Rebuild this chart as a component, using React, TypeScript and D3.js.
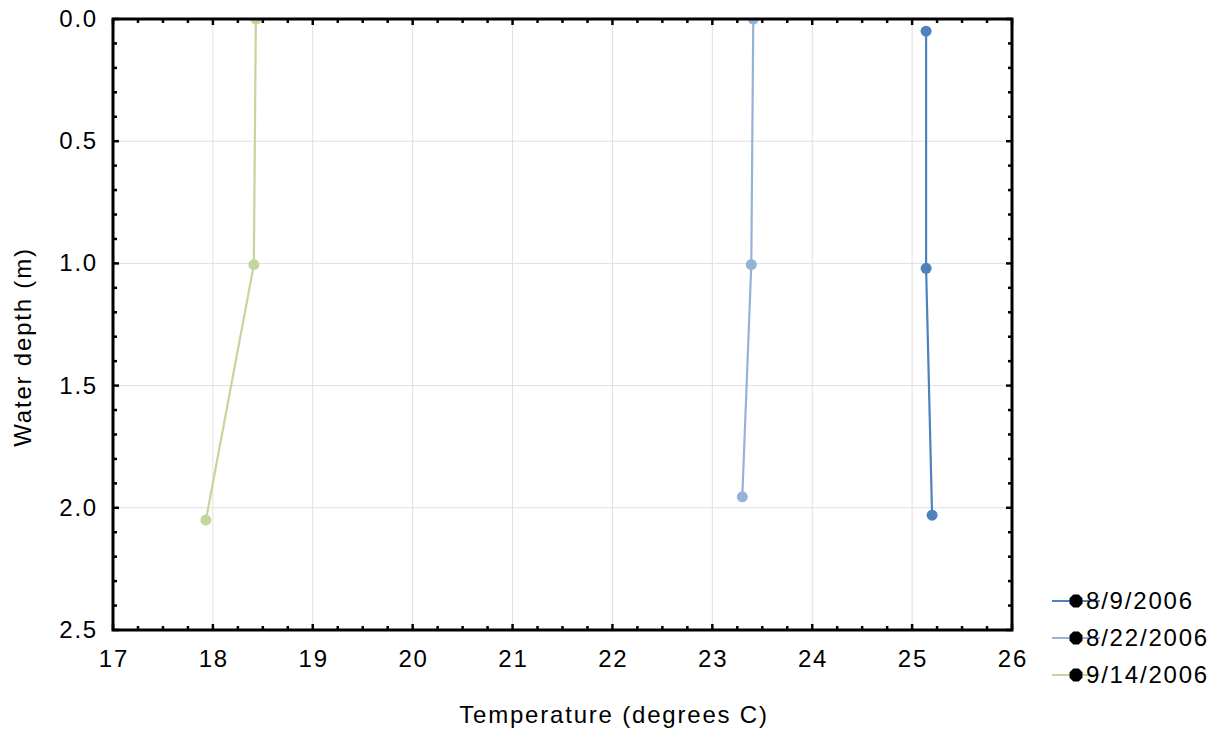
import React from "react";
import * as d3 from "d3";

const seriesNames = ["8/9/2006", "8/22/2006", "9/14/2006"];
const seriesColors = ["#4f81bd", "#95b3d7", "#c3d69b"];
const temp0809 = [25.14, 25.14, 25.2];
const depth0809 = [0.05, 1.02, 2.03];
const temp0822 = [23.41, 23.39, 23.3];
const depth0822 = [0.0, 1.005, 1.955];
const temp0914 = [18.43, 18.41, 17.93];
const depth0914 = [0.0, 1.005, 2.05];
const xTicks = [17, 18, 19, 20, 21, 22, 23, 24, 25, 26];
const yTicks = [0, 0.5, 1, 1.5, 2, 2.5];

const W = 1228, H = 738;
const L = 113, R = 1012, T = 19, B = 630;

export default function App() {
  const x = d3.scaleLinear().domain([17, 26]).range([L, R]);
  const y = d3.scaleLinear().domain([0, 2.5]).range([T, B]);
  const series = [
    { name: seriesNames[0], color: seriesColors[0], t: temp0809, d: depth0809 },
    { name: seriesNames[1], color: seriesColors[1], t: temp0822, d: depth0822 },
    { name: seriesNames[2], color: seriesColors[2], t: temp0914, d: depth0914 },
  ];
  const line = d3.line<[number, number]>().x((p) => x(p[0])).y((p) => y(p[1]));
  const xMinor = d3.range(17, 26.001, 0.25);
  const yMinor = d3.range(0, 2.5001, 0.1);
  const font = "'Liberation Sans', Arial, sans-serif";
  const fs = 24;
  const ls = 1.8;
  const octagon = (cx: number, cy: number, r: number) => {
    const pts = d3.range(8).map((i) => {
      const a = (Math.PI / 8) + (i * Math.PI) / 4;
      return [cx + r * Math.cos(a), cy + r * Math.sin(a)].join(",");
    });
    return pts.join(" ");
  };
  return (
    <svg width={W} height={H} style={{ position: "absolute", left: 0, top: 0, background: "#fff" }} fontFamily={font}>
      <defs>
        <clipPath id="clip">
          <rect x={L} y={T} width={R - L} height={B - T} />
        </clipPath>
      </defs>
      {xTicks.slice(1, -1).map((v) => (
        <line key={"gx" + v} x1={x(v)} x2={x(v)} y1={T} y2={B} stroke="#e0e0e0" strokeWidth={1} />
      ))}
      {yTicks.slice(1, -1).map((v) => (
        <line key={"gy" + v} x1={L} x2={R} y1={y(v)} y2={y(v)} stroke="#e0e0e0" strokeWidth={1} />
      ))}
      {series.map((s) => {
        const pts: [number, number][] = s.t.map((t, i) => [t, s.d[i]]);
        return (
          <g key={s.name} clipPath="url(#clip)">
            <path d={line(pts) || ""} fill="none" stroke={s.color} strokeWidth={2.2} />
            {pts.map((p, i) => (
              <circle key={i} cx={x(p[0])} cy={y(p[1])} r={5.5} fill={s.color} />
            ))}
          </g>
        );
      })}
      {xMinor.map((v, i) => {
        const major = i % 4 === 0;
        const len = major ? 6 : 4;
        return (
          <g key={"xt" + i}>
            <line x1={x(v)} x2={x(v)} y1={B} y2={B - len} stroke="#000" strokeWidth={2.5} />
            <line x1={x(v)} x2={x(v)} y1={T} y2={T + len} stroke="#000" strokeWidth={2.5} />
          </g>
        );
      })}
      {yMinor.map((v, i) => {
        const major = i % 5 === 0;
        const len = major ? 6 : 4;
        return (
          <g key={"yt" + i}>
            <line x1={L} x2={L + len} y1={y(v)} y2={y(v)} stroke="#000" strokeWidth={2.5} />
            <line x1={R} x2={R - len} y1={y(v)} y2={y(v)} stroke="#000" strokeWidth={2.5} />
          </g>
        );
      })}
      <rect x={L} y={T} width={R - L} height={B - T} fill="none" stroke="#000" strokeWidth={3} />
      {xTicks.map((v) => (
        <text key={"xl" + v} x={x(v) + ls / 2} y={667} textAnchor="middle" fontSize={fs} letterSpacing={ls} fill="#000">{v}</text>
      ))}
      {yTicks.map((v) => (
        <text key={"yl" + v} x={98} y={y(v) + 8} textAnchor="end" fontSize={fs} letterSpacing={ls} fill="#000">{v.toFixed(1)}</text>
      ))}
      <text x={614} y={723} textAnchor="middle" fontSize={fs} letterSpacing={ls} fill="#000">Temperature (degrees C)</text>
      <text transform={`translate(31, 347) rotate(-90)`} textAnchor="middle" fontSize={fs} letterSpacing={ls} fill="#000">Water depth (m)</text>
      {series.map((s, i) => {
        const ly = 601 + i * 37;
        return (
          <g key={"lg" + i}>
            <line x1={1052} x2={1100} y1={ly} y2={ly} stroke={s.color} strokeWidth={2} />
            <polygon points={octagon(1076, ly, 7)} fill="#000" />
            <text x={1086} y={ly + 8} fontSize={fs} letterSpacing={ls} fill="#000">{s.name}</text>
          </g>
        );
      })}
    </svg>
  );
}
